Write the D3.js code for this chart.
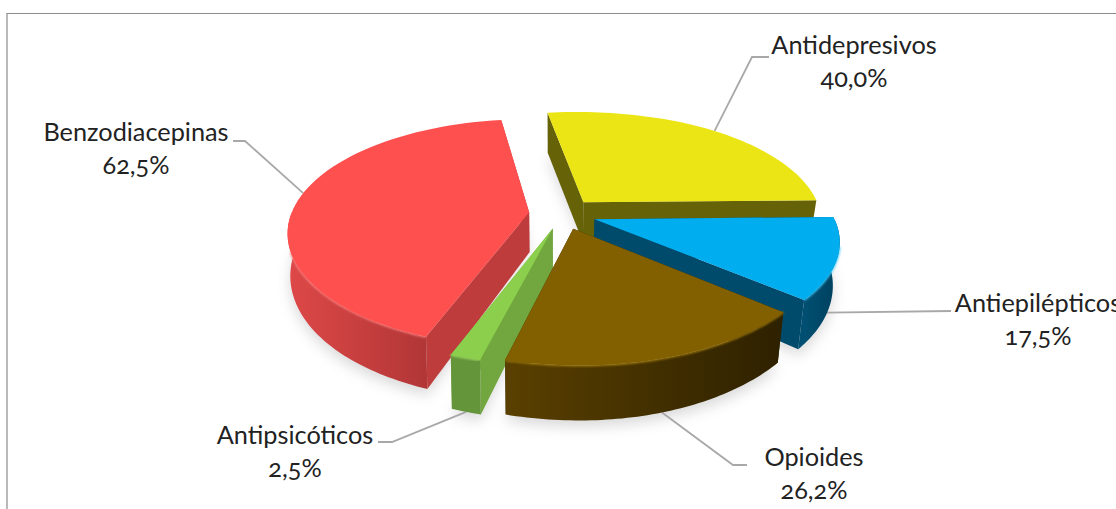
<!DOCTYPE html>
<html><head><meta charset="utf-8">
<script src="https://cdn.jsdelivr.net/npm/d3@7/dist/d3.min.js"></script>
<style>html,body{margin:0;background:#fff;overflow:hidden}svg{display:block}
text{font-family:Lato,"Open Sans",sans-serif;font-size:25.3px;fill:#222;text-anchor:middle;font-feature-settings:"onum" 1;font-variant-numeric:oldstyle-nums}</style>
</head><body><svg id="c" width="1116" height="509"></svg>
<script>
const categories=["Antidepresivos","Antiepilépticos","Opioides","Antipsicóticos","Benzodiacepinas"];
const values=[40.0,17.5,26.2,2.5,62.5];
const valueLabels=["40,0%","17,5%","26,2%","2,5%","62,5%"];
const topColors=["#ebe516","#00aeef","#826000","#8ccf4d","#ff5050"];
const wallColors=["#666208","#004a6b","#332500","#72a73f","#bf3c3c"];
const rimLeft=["#666208","#004f72","#5a4000","#64953a","#de4848"];
const rimRight=["#666208","#003f5c","#2e2100","#64953a","#b23636"];
const bevelColors=["#f5f060","#3cc8f8","#ab8410","#a8e468","#ff8080"];
const frontStretch=[1,1,1,1,1.05];
const drawOrder=[0,4,1,3,2];
const labelCenters=[[854,46],[1038,304],[814,458],[295,436],[136,133]];
const leaderElbows=[[[752,57],[769,57]],[[951,311]],[[733,465],[747,465]],[[392,442],[378,442]],[[245,141],[233,141]]];
const leaderShift=[0,4,0,0,4];
const leaderOnBase=[false,true,true,true,false];

const svg=d3.select("#c");
const defs=svg.append("defs");
defs.append("filter").attr("id","sh").attr("x","-20%").attr("y","-20%").attr("width","140%").attr("height","140%")
  .append("feGaussianBlur").attr("stdDeviation",7);
defs.append("filter").attr("id","bv").append("feGaussianBlur").attr("stdDeviation",0.9);

const R=238,K=0.445,D=R*5.5,E=33.6,CX=562,CY=214;
const startDeg=-8;
const arcs=d3.pie().sort(null).startAngle(startDeg*Math.PI/180).endAngle((startDeg+360)*Math.PI/180)(values);
const P=(i,a,r)=>{
  const m=(arcs[i].startAngle+arcs[i].endAngle)/2;
  const X=E*Math.sin(m)+r*Math.sin(a),Y=-E*Math.cos(m)-r*Math.cos(a);
  const s=D/(D-Y);
  const shear=Y*0.021*(X<0?1:Math.max(0,1-X/150));
  return {x:CX+0.5+X*s+shear,y:CY+Y*K*s*(Y<0?1.045:frontStretch[i]),d:40*(1+Math.max(0,Y)/R*0.33),Y};
};
const line=d3.line().x(p=>p.x).y(p=>p.y);
const basePt=p=>({x:CX+(p.x-CX)*(p.x<CX?0.99:0.975),y:p.y+p.d});
const sample=(i,a0,a1)=>d3.range(0,61).map(t=>P(i,a0+(a1-a0)*t/60,R));

svg.append("path").attr("d",d3.line()([[7,509],[7,13.5],[1116,13.5]])).attr("fill","none").attr("stroke","#8c8c8c").attr("stroke-width",1.2);

const shadow=svg.append("g").attr("filter","url(#sh)").attr("opacity",0.28);
arcs.forEach((d,i)=>{
  const pts=sample(i,d.startAngle,d.endAngle).map(basePt).map(p=>({x:p.x,y:p.y+6}));
  shadow.append("path").attr("d",line([basePt(P(i,0,0)),...pts])+"Z").attr("fill","#777");
});

arcs.forEach((d,i)=>{
  const a=(d.startAngle+d.endAngle)/2+leaderShift[i]*Math.PI/180;
  const p=P(i,a,R),q=leaderOnBase[i]?basePt(p):p;
  svg.append("path").attr("d",d3.line()([[q.x,q.y],...leaderElbows[i]])).attr("fill","none").attr("stroke","#a8a8a8").attr("stroke-width",1.8);
});

drawOrder.forEach(i=>{
  const d=arcs[i],g=svg.append("g");
  const apex=P(i,0,0);
  const wall=a=>{const e=P(i,a,R);return [apex,e,basePt(e),basePt(apex)];};
  const walls=[d.startAngle,d.endAngle].sort((a,b)=>P(i,a,R).Y-P(i,b,R).Y);
  walls.forEach(a=>g.append("path").attr("d",line(wall(a))+"Z").attr("fill",wallColors[i]));
  const lo=Math.max(d.startAngle,Math.PI/2),hi=Math.min(d.endAngle,Math.PI*1.5);
  if(hi>lo){
    const rim=sample(i,lo,hi);
    const id="rim"+i;
    const ext=d3.extent(rim,p=>p.x);
    const gr=defs.append("linearGradient").attr("id",id).attr("gradientUnits","userSpaceOnUse")
      .attr("x1",ext[0]).attr("x2",ext[1]).attr("y1",0).attr("y2",0);
    gr.append("stop").attr("offset",0).attr("stop-color",rimLeft[i]);
    gr.append("stop").attr("offset",1).attr("stop-color",rimRight[i]);
    g.append("path").attr("d",line([...rim,...rim.map(basePt).reverse()])+"Z").attr("fill",`url(#${id})`);
    const bLo=Math.max(lo,Math.PI*0.58),bHi=Math.min(hi,Math.PI*1.39);
    if(bHi>bLo) g.append("path").attr("d",line(sample(i,bLo,bHi))).attr("fill","none").attr("stroke",bevelColors[i]).attr("stroke-width",1.8).attr("filter","url(#bv)");
  }
  g.append("path").attr("d",line([apex,...sample(i,d.startAngle,d.endAngle)])+"Z").attr("fill",topColors[i]);
});

categories.forEach((c,i)=>{
  const [x,y]=labelCenters[i];
  svg.append("text").attr("x",x).attr("y",y+8).text(c);
  svg.append("text").attr("x",x).attr("y",y+41).text(valueLabels[i]);
});
</script></body></html>
